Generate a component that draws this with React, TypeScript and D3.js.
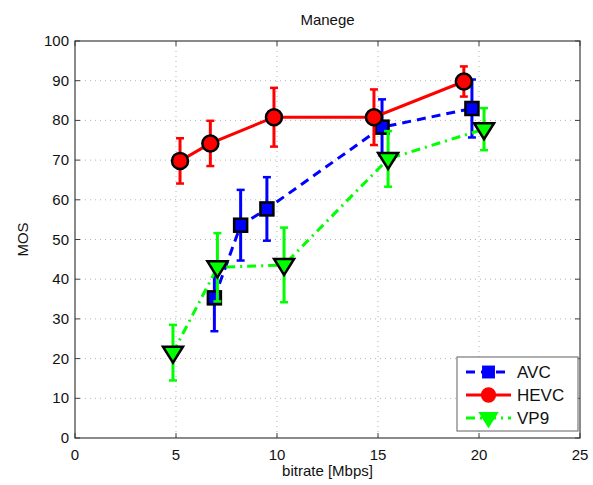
import * as d3 from 'd3';

const bitrateAVC = [6.9, 8.2, 9.5, 15.2, 19.65];
const mosAVC = [35.3, 53.6, 57.7, 78.3, 83];
const errAVC = [8.4, 8.9, 8.0, 7.0, 7.3];

const bitrateHEVC = [5.2, 6.7, 9.85, 14.8, 19.25];
const mosHEVC = [69.8, 74.2, 80.8, 80.8, 89.8];
const errHEVC = [5.7, 5.7, 7.4, 7.0, 3.8];

const bitrateVP9 = [4.85, 7.05, 10.35, 15.5, 20.25];
const mosVP9 = [21.5, 43, 43.6, 70.3, 77.8];
const errVP9 = [7.0, 8.6, 9.4, 7.0, 5.3];

const xTicks = [0, 5, 10, 15, 20, 25];
const yTicks = [0, 10, 20, 30, 40, 50, 60, 70, 80, 90, 100];

const W = 593;
const H = 485;
const left = 75;
const right = 580;
const top = 41;
const bottom = 438;
const font = '"Liberation Sans", Arial, sans-serif';

const x = d3.scaleLinear().domain([0, 25]).range([left, right]);
const y = d3.scaleLinear().domain([0, 100]).range([bottom, top]);

type Series = {
  name: string;
  xs: number[];
  ys: number[];
  err: number[];
  color: string;
  dash: string;
  marker: 'square' | 'circle' | 'triangle';
};

const series: Series[] = [
  { name: 'AVC', xs: bitrateAVC, ys: mosAVC, err: errAVC, color: '#0000ff', dash: '9,6', marker: 'square' },
  { name: 'HEVC', xs: bitrateHEVC, ys: mosHEVC, err: errHEVC, color: '#ff0000', dash: '', marker: 'circle' },
  { name: 'VP9', xs: bitrateVP9, ys: mosVP9, err: errVP9, color: '#00ff00', dash: '9,5,2,5', marker: 'triangle' },
];

function Marker({ kind, cx, cy, color, edge = '#000', k = 1 }: { kind: string; cx: number; cy: number; color: string; edge?: string; k?: number }) {
  if (kind === 'square') {
    const h = 6.5 * k;
    return <rect x={cx - h} y={cy - h} width={2 * h} height={2 * h} fill={color} stroke={edge} strokeWidth={2.5} />;
  }
  if (kind === 'circle') {
    return <circle cx={cx} cy={cy} r={8 * k} fill={color} stroke={edge} strokeWidth={2.5} />;
  }
  const p = `M${cx - 10 * k},${cy - 6 * k} L${cx + 10 * k},${cy - 6 * k} L${cx},${cy + 10 * k} Z`;
  return <path d={p} fill={color} stroke={edge} strokeWidth={2.5} strokeLinejoin="miter" />;
}

export default function App() {
  const line = d3.line<[number, number]>().x(d => x(d[0])).y(d => y(d[1]));
  const axisColor = '#3c3c3c';

  return (
    <svg width={W} height={H} style={{ position: 'absolute', left: 0, top: 0, background: '#fff' }} fontFamily={font}>
      <rect x={0} y={0} width={W} height={H} fill="#fff" />
      {/* grid */}
      {xTicks.slice(1, -1).map(t => (
        <line key={'gx' + t} x1={x(t)} x2={x(t)} y1={top} y2={bottom} stroke="#b4b4b4" strokeDasharray="1,4" />
      ))}
      {yTicks.slice(1, -1).map(t => (
        <line key={'gy' + t} x1={left} x2={right} y1={y(t)} y2={y(t)} stroke="#b4b4b4" strokeDasharray="1,4" />
      ))}
      {/* ticks */}
      {xTicks.map(t => (
        <g key={'tx' + t}>
          <line x1={x(t)} x2={x(t)} y1={bottom} y2={bottom - 5} stroke={axisColor} />
          <line x1={x(t)} x2={x(t)} y1={top} y2={top + 5} stroke={axisColor} />
          <text x={x(t)} y={bottom + 22} textAnchor="middle" fontSize={15} fill="#111">{t}</text>
        </g>
      ))}
      {yTicks.map(t => (
        <g key={'ty' + t}>
          <line x1={left} x2={left + 5} y1={y(t)} y2={y(t)} stroke={axisColor} />
          <line x1={right} x2={right - 5} y1={y(t)} y2={y(t)} stroke={axisColor} />
          <text x={left - 6} y={y(t) + 5} textAnchor="end" fontSize={15} fill="#111">{t}</text>
        </g>
      ))}
      <rect x={left} y={top} width={right - left} height={bottom - top} fill="none" stroke={axisColor} strokeWidth={1.2} />

      {/* series */}
      {series.map(s => {
        const pts = s.xs.map((v, i) => [v, s.ys[i]] as [number, number]);
        return (
          <g key={s.name}>
            {pts.map((p, i) => (
              <g key={i} stroke={s.color} strokeWidth={3}>
                <line x1={x(p[0])} x2={x(p[0])} y1={y(p[1] + s.err[i])} y2={y(p[1] - s.err[i])} />
                <line x1={x(p[0]) - 4} x2={x(p[0]) + 4} y1={y(p[1] + s.err[i])} y2={y(p[1] + s.err[i])} strokeWidth={2.5} />
                <line x1={x(p[0]) - 4} x2={x(p[0]) + 4} y1={y(p[1] - s.err[i])} y2={y(p[1] - s.err[i])} strokeWidth={2.5} />
              </g>
            ))}
            <path d={line(pts) || ''} fill="none" stroke={s.color} strokeWidth={3} strokeDasharray={s.dash || undefined} />
            {pts.map((p, i) => (
              <Marker key={'m' + i} kind={s.marker} cx={x(p[0])} cy={y(p[1])} color={s.color} />
            ))}
          </g>
        );
      })}

      {/* legend */}
      <g>
        <rect x={457} y={357} width={121} height={74} fill="#fff" stroke="#7a7a7a" strokeWidth={1.2} />
        {series.map((s, i) => {
          const ly = 372 + i * 23;
          return (
            <g key={'lg' + s.name}>
              <line x1={466} x2={511} y1={ly} y2={ly} stroke={s.color} strokeWidth={3} strokeDasharray={s.dash || undefined} />
              <Marker kind={s.marker} cx={488.5} cy={ly} color={s.color} edge={s.color} k={0.8} />
              <text x={517} y={ly + 6} fontSize={17} fill="#111">{s.name}</text>
            </g>
          );
        })}
      </g>

      {/* labels */}
      <text x={(left + right) / 2} y={25} textAnchor="middle" fontSize={15} fill="#111">Manege</text>
      <text x={(left + right) / 2} y={476} textAnchor="middle" fontSize={15} fill="#111">bitrate [Mbps]</text>
      <text transform={`translate(28, ${(top + bottom) / 2}) rotate(-90)`} textAnchor="middle" fontSize={15} fill="#111">MOS</text>
    </svg>
  );
}
